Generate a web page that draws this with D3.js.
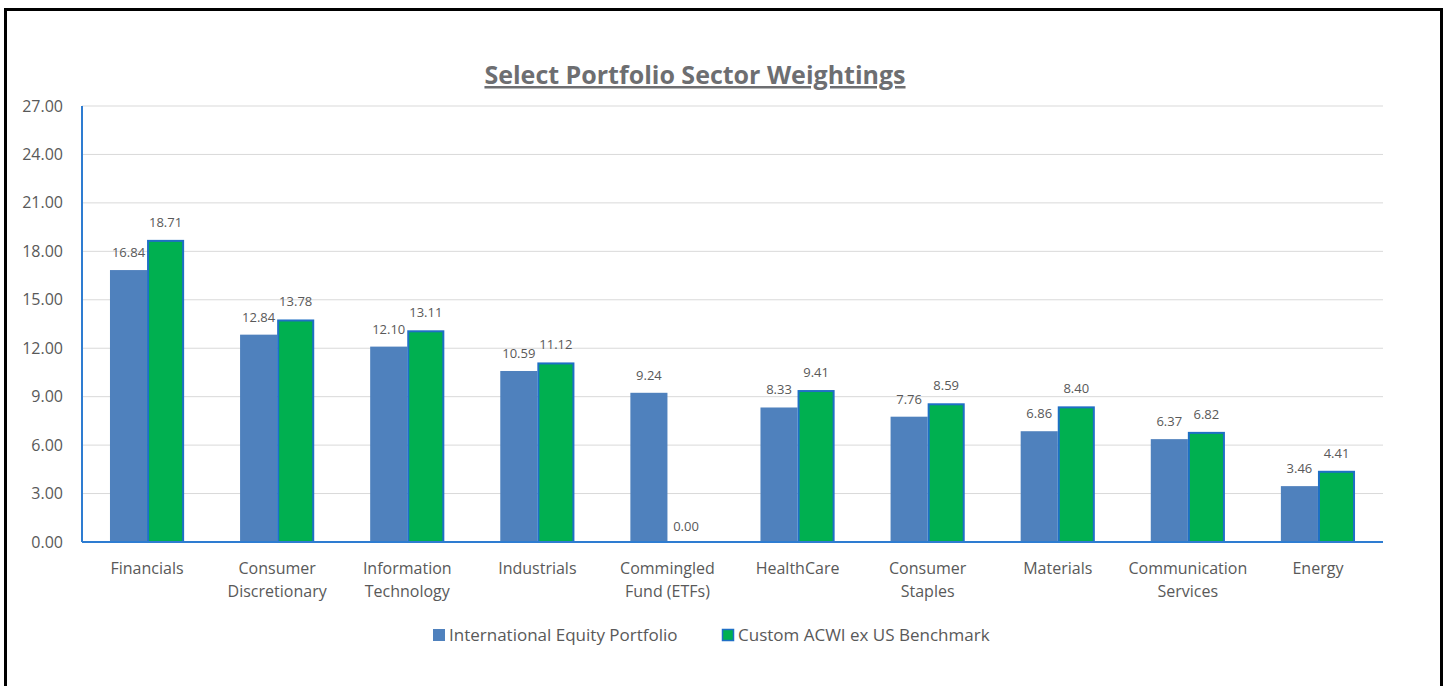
<!DOCTYPE html>
<html>
<head>
<meta charset="utf-8">
<script src="https://cdn.jsdelivr.net/npm/d3@7"></script>
<style>
  body { margin: 0; background: #fff; }
  svg { display: block; font-family: "Open Sans", sans-serif; }
</style>
</head>
<body>
<svg width="1447" height="686"></svg>
<script>
// Chart data
const sectors = [
  ["Financials"],
  ["Consumer", "Discretionary"],
  ["Information", "Technology"],
  ["Industrials"],
  ["Commingled", "Fund (ETFs)"],
  ["HealthCare"],
  ["Consumer", "Staples"],
  ["Materials"],
  ["Communication", "Services"],
  ["Energy"]
];
const portfolio = [16.84, 12.84, 12.10, 10.59, 9.24, 8.33, 7.76, 6.86, 6.37, 3.46];
const benchmark = [18.71, 13.78, 13.11, 11.12, 0.00, 9.41, 8.59, 8.40, 6.82, 4.41];
const seriesNames = ["International Equity Portfolio", "Custom ACWI ex US Benchmark"];
const yTicks = [0, 3, 6, 9, 12, 15, 18, 21, 24, 27];

const svg = d3.select("svg");

// outer frame
svg.append("rect")
    .attr("x", 5.5).attr("y", 9.5)
    .attr("width", 1436).attr("height", 690)
    .attr("fill", "none")
    .attr("stroke", "#000")
    .attr("stroke-width", 3);

// plot area
let plotLeft = 82, plotRight = 1383, plotTop = 106, plotBottom = 542;

let x = d3.scaleBand()
    .domain(d3.range(sectors.length))
    .range([plotLeft, plotRight])
    .paddingInner(0.43)
    .paddingOuter(0.215);

let xs = d3.scaleBand()
    .domain([0, 1])
    .range([0, x.bandwidth()]);

let y = d3.scaleLinear().domain([0, 27]).range([plotBottom, plotTop]);

// gridlines
svg.append("g")
  .selectAll("line")
  .data(yTicks.filter(d => d > 0))
  .enter().append("line")
    .attr("x1", plotLeft).attr("x2", plotRight)
    .attr("y1", d => y(d)).attr("y2", d => y(d))
    .attr("stroke", "#d9d9d9")
    .attr("stroke-width", 1);

// y tick labels
svg.append("g")
  .selectAll("text")
  .data(yTicks)
  .enter().append("text")
    .attr("x", 63)
    .attr("y", d => y(d))
    .attr("dy", "0.35em")
    .attr("text-anchor", "end")
    .attr("font-size", 16)
    .attr("fill", "#595959")
    .text(d => d3.format(".2f")(d));

// bars
let rows = [];
sectors.forEach((s, i) => {
  rows.push({i: i, k: 0, v: portfolio[i]});
  rows.push({i: i, k: 1, v: benchmark[i]});
});
let colors = ["#4f81bd", "#00b050"];

svg.append("g")
  .selectAll("rect")
  .data(rows.filter(d => d.v > 0))
  .enter().append("rect")
    .attr("x", d => x(d.i) + xs(d.k) + (d.k === 1 ? 1 : 0))
    .attr("y", d => y(d.v) + (d.k === 1 ? 1 : 0))
    .attr("width", d => xs.bandwidth() - (d.k === 1 ? 2 : 0))
    .attr("height", d => y(0) - y(d.v) - (d.k === 1 ? 1 : 0))
    .attr("fill", d => colors[d.k])
    .attr("stroke", d => d.k === 1 ? "#1f6fc5" : "none")
    .attr("stroke-width", 2);

// value labels
svg.append("g")
  .selectAll("text")
  .data(rows)
  .enter().append("text")
    .attr("x", d => x(d.i) + xs(d.k) + xs.bandwidth() / 2)
    .attr("y", d => y(d.v) - (d.v > 0 ? 13 : 11))
    .attr("text-anchor", "middle")
    .attr("font-size", 13)
    .attr("fill", "#595959")
    .text(d => d3.format(".2f")(d.v));

// axes lines
svg.append("line")
    .attr("x1", plotLeft).attr("x2", plotLeft)
    .attr("y1", plotTop).attr("y2", plotBottom)
    .attr("stroke", "#2e7cd1").attr("stroke-width", 2);
svg.append("line")
    .attr("x1", plotLeft).attr("x2", plotRight)
    .attr("y1", plotBottom).attr("y2", plotBottom)
    .attr("stroke", "#2e7cd1").attr("stroke-width", 2);

// category labels
let cat = svg.append("g")
  .selectAll("text")
  .data(sectors)
  .enter().append("text")
    .attr("x", (d, i) => x(i) + x.bandwidth() / 2)
    .attr("y", 574)
    .attr("text-anchor", "middle")
    .attr("font-size", 16)
    .attr("fill", "#595959");
cat.selectAll("tspan")
  .data(d => d)
  .enter().append("tspan")
    .attr("x", function() { return this.parentNode.getAttribute("x"); })
    .attr("dy", (d, j) => j === 0 ? 0 : 23)
    .text(d => d);

// title
svg.append("text")
    .attr("x", 695)
    .attr("y", 84)
    .attr("text-anchor", "middle")
    .attr("font-size", 25)
    .attr("font-weight", "bold")
    .attr("fill", "#6d6e71")
    .attr("text-decoration", "underline")
    .text("Select Portfolio Sector Weightings");

// legend
let legendX = [433, 722];
let lg = svg.append("g")
  .selectAll("g")
  .data(seriesNames)
  .enter().append("g")
    .attr("transform", (d, i) => "translate(" + legendX[i] + ",635)");
lg.append("rect")
    .attr("x", (d, i) => i === 1 ? 0.5 : 0)
    .attr("y", (d, i) => i === 1 ? -5.5 : -6)
    .attr("width", (d, i) => i === 1 ? 11 : 12)
    .attr("height", (d, i) => i === 1 ? 11 : 12)
    .attr("fill", (d, i) => colors[i])
    .attr("stroke", (d, i) => i === 1 ? "#1f6fc5" : "none")
    .attr("stroke-width", 1.5);
lg.append("text")
    .attr("x", 16)
    .attr("y", 0)
    .attr("dy", "0.35em")
    .attr("font-size", 17)
    .attr("fill", "#595959")
    .text(d => d);
</script>
</body>
</html>
